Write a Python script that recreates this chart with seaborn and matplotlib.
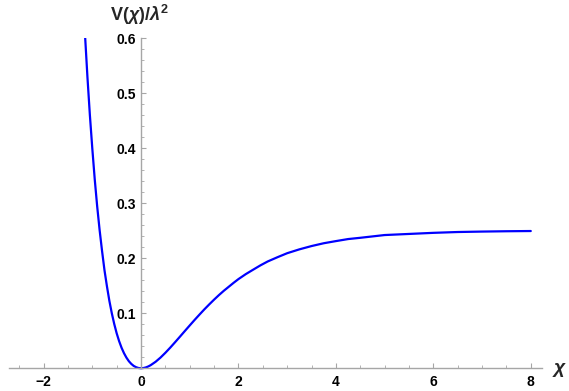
import numpy as np
import pandas as pd
import seaborn as sns
import matplotlib.pyplot as plt
from matplotlib.ticker import MultipleLocator

# values
chi = [-1.15, -1.1, -1.05, -1.0, -0.95, -0.9, -0.85, -0.8, -0.75, -0.7, -0.65, -0.6,
       -0.55, -0.5, -0.45, -0.4, -0.35, -0.3, -0.25, -0.2, -0.15, -0.1, -0.05,
       0.0, 0.05, 0.1, 0.15, 0.2, 0.3, 0.4, 0.5, 0.6, 0.7, 0.8, 0.9, 1.0, 1.1, 1.2,
       1.3, 1.4, 1.5, 1.6, 1.7, 1.8, 1.9, 2.0, 2.15, 2.3, 2.45, 2.6, 2.8, 3.0,
       3.25, 3.5, 3.75, 4.0, 4.25, 4.5, 5.0, 5.5, 6.0, 6.5, 7.0, 7.5, 8.0]
potential = [0.606, 0.529, 0.460, 0.399, 0.343, 0.294, 0.251, 0.213, 0.178, 0.149, 0.1225, 0.100,
             0.0804, 0.0635, 0.0493, 0.0373, 0.0274, 0.0193, 0.0128, 0.0079, 0.0042, 0.0018, 0.0004,
             0.0, 0.0004, 0.0015, 0.0033, 0.0057, 0.0118, 0.0194, 0.0281, 0.0375, 0.0474, 0.0575, 0.0677, 0.0778, 0.0878, 0.0975,
             0.107, 0.116, 0.1247, 0.133, 0.1408, 0.148, 0.1552, 0.162, 0.171, 0.179, 0.1869, 0.194, 0.2017, 0.209,
             0.216, 0.222, 0.2271, 0.231, 0.2347, 0.237, 0.242, 0.244, 0.246, 0.2475, 0.2483, 0.2489, 0.2493]
x_ticks = [-2, 0, 2, 4, 6, 8]
y_ticks = [0.1, 0.2, 0.3, 0.4, 0.5, 0.6]

df = pd.DataFrame({"chi": chi, "V": potential})

sns.set_theme(style="white")
plt.rcParams["font.family"] = ["Liberation Sans", "DejaVu Sans"]
plt.rcParams["font.weight"] = "bold"
plt.rcParams["mathtext.fontset"] = "custom"
plt.rcParams["mathtext.rm"] = "Liberation Sans:bold"
plt.rcParams["mathtext.it"] = "Liberation Sans:italic:bold"
plt.rcParams["mathtext.bf"] = "Liberation Sans:bold"

fig = plt.figure(figsize=(5.69, 3.91), dpi=100)
ax = fig.add_axes([9 / 569, (391 - 382) / 391, 533 / 569, 344 / 391])

sns.lineplot(data=df, x="chi", y="V", color="#0000ff", linewidth=1.6, estimator=None, ax=ax)

ax.set_xlim(-2.71, 8.23)
ax.set_ylim(-0.025, 0.6)
ax.set_xlabel("")
ax.set_ylabel("")

axis_col = "#a6a6a6"
for s in ["top", "right"]:
    ax.spines[s].set_visible(False)
ax.spines["bottom"].set_position(("data", 0))
ax.spines["left"].set_position(("data", 0))
ax.spines["left"].set_bounds(0, 0.6)
for s in ["bottom", "left"]:
    ax.spines[s].set_color(axis_col)
    ax.spines[s].set_linewidth(1.0)

ax.tick_params(which="major", direction="in", length=3.5, width=0.8, color=axis_col,
               labelsize=10, labelcolor="black")
ax.tick_params(which="minor", direction="in", length=2, width=0.6, color=axis_col)
ax.tick_params(axis="x", which="both", bottom=True, pad=5)
ax.tick_params(axis="y", which="both", left=True, pad=3.5)

ax.set_xticks(x_ticks)
ax.set_yticks(y_ticks)
ax.xaxis.set_minor_locator(MultipleLocator(0.5))
ax.yaxis.set_minor_locator(MultipleLocator(0.02))
ax.set_xticklabels([f"{t}".replace("-", "\u2212") for t in x_ticks])
ax.set_yticklabels([f"{t:.1f}" for t in y_ticks])
for lab in ax.get_xticklabels() + ax.get_yticklabels():
    lab.set_fontweight("bold")
    lab.set_fontsize(10)

fig.text(140 / 569, 1 - 15 / 391, r"$\mathrm{V(}\chi\mathrm{)/}\lambda^{2}$",
         ha="center", va="center", fontsize=13)
fig.text(560 / 569, 1 - 370 / 391, r"$\chi$", ha="center", va="center", fontsize=14)

fig.savefig("out.png", dpi=100)
